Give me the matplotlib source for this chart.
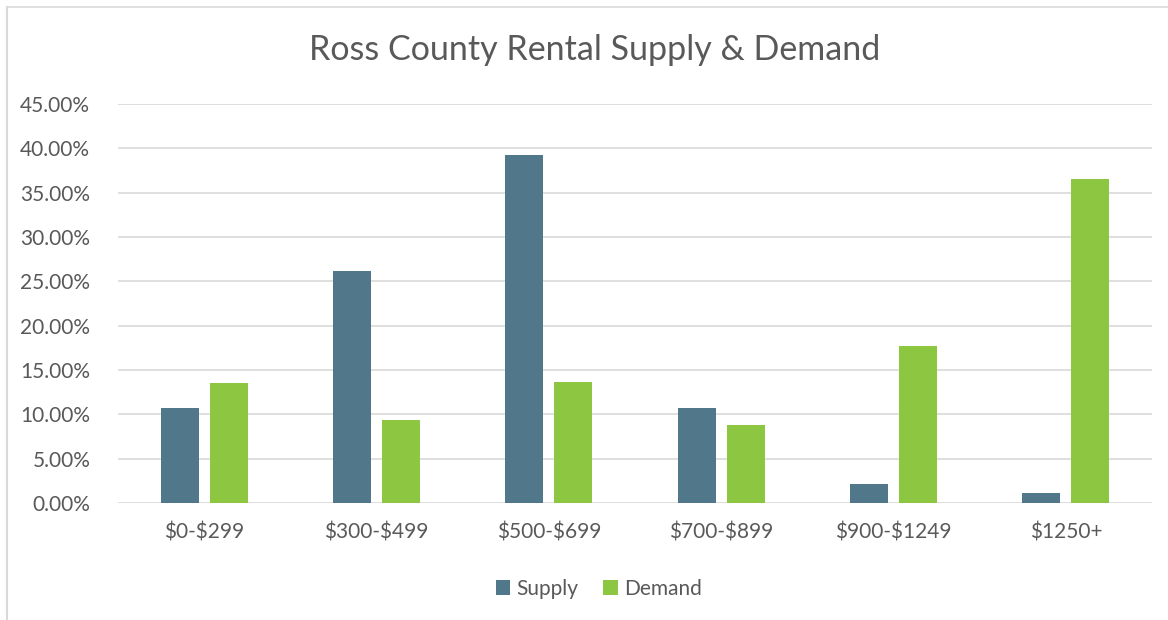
import matplotlib.pyplot as plt
import numpy as np
from matplotlib.lines import Line2D
from matplotlib.ticker import FuncFormatter

categories = ["$0-$299", "$300-$499", "$500-$699", "$700-$899", "$900-$1249", "$1250+"]
supply = [0.1075, 0.262, 0.393, 0.1075, 0.021, 0.011]
demand = [0.135, 0.094, 0.136, 0.088, 0.177, 0.365]

supply_color = "#50778A"
demand_color = "#8DC641"
text_color = "#595959"
grid_color = "#D9D9D9"

plt.rcParams["font.family"] = ["Lato", "DejaVu Sans"]
plt.rcParams["text.parse_math"] = False

fig = plt.figure(figsize=(11.68, 6.2), dpi=100)
# chart frame: only top and left edges fall inside the image
fig.lines.append(Line2D([7 / 1168, 7 / 1168], [0, 1 - 6.5 / 620], transform=fig.transFigure,
                        color="#D9D9D9", linewidth=1.5))
fig.lines.append(Line2D([7 / 1168, 1], [1 - 6.5 / 620, 1 - 6.5 / 620], transform=fig.transFigure,
                        color="#D9D9D9", linewidth=1.2))
ax = fig.add_axes([118 / 1168, 1 - 503 / 620, 1034 / 1168, 399 / 620])

x = np.arange(len(categories))
width = 0.22
offset = 0.142
ax.bar(x - offset, supply, width, color=supply_color, label="Supply", zorder=3)
ax.bar(x + offset, demand, width, color=demand_color, label="Demand", zorder=3)

ax.set_xlim(-0.5, len(categories) - 0.5)
ax.set_ylim(0, 0.45)
ax.set_yticks(np.arange(0, 0.451, 0.05))
ax.yaxis.set_major_formatter(FuncFormatter(lambda v, p: f"{v * 100:.2f}%"))
ax.set_xticks(x)
ax.set_xticklabels(categories)
ax.grid(axis="y", color=grid_color, linewidth=1.2, zorder=0)
for s in ax.spines.values():
    s.set_visible(False)
ax.tick_params(axis="both", length=0, labelsize=15, colors=text_color)
ax.tick_params(axis="y", pad=20)
ax.tick_params(axis="x", pad=14)

fig.text(595 / 1168, 1 - 50 / 620, "Ross County Rental Supply & Demand",
         ha="center", va="center", fontsize=24.5, color=text_color)

leg = ax.legend(loc="center", bbox_to_anchor=(0.465, -0.215), ncol=2, frameon=False,
                fontsize=15, handlelength=0.7, handleheight=0.7,
                handletextpad=0.3, columnspacing=1.2)
for t in leg.get_texts():
    t.set_color(text_color)

fig.savefig("out.png", dpi=100)
